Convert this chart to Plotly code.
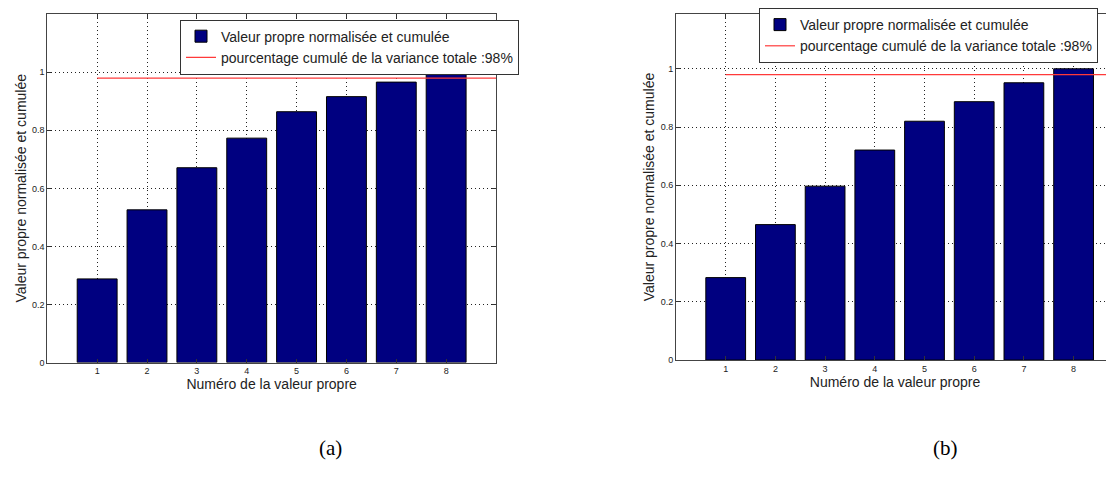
import plotly.graph_objects as go

num_vp = [1, 2, 3, 4, 5, 6, 7, 8]
cumul_a = [0.288, 0.526, 0.671, 0.773, 0.864, 0.916, 0.966, 1.0]
cumul_b = [0.283, 0.465, 0.597, 0.721, 0.820, 0.887, 0.952, 1.0]

seuil = 0.98
seuil_x = [1, 9]

y_ticks = [0, 0.2, 0.4, 0.6, 0.8, 1]
y_labels = ['0', '0.2', '0.4', '0.6', '0.8', '1']

nom_barre = 'Valeur propre normalisée et cumulée'
nom_seuil = 'pourcentage cumulé de la variance totale :98%'
titre_x = 'Numéro de la valeur propre'
titre_y = 'Valeur propre normalisée et cumulée'

# la page html garde une marge de 8 px autour du graphique
OFF = 8
W, H = 1114 - OFF, 479 - OFF
FONT = 'Liberation Sans, Arial, sans-serif'


def px(x):
    return (x - OFF) / W


def py(y):
    return 1 - (y - OFF) / H


fig = go.Figure()

for cumul, xa, ya, leg in [(cumul_a, 'x', 'y', 'legend'), (cumul_b, 'x2', 'y2', 'legend2')]:
    fig.add_trace(go.Bar(
        x=num_vp, y=cumul, width=0.8, name=nom_barre,
        marker=dict(color='#000080', line=dict(color='black', width=1)),
        xaxis=xa, yaxis=ya, legend=leg))
    fig.add_trace(go.Scatter(
        x=seuil_x, y=[seuil] * len(seuil_x), mode='lines', name=nom_seuil,
        line=dict(color='#ff3a3a', width=1.2),
        xaxis=xa, yaxis=ya, legend=leg))


def x_axis(domain, rng, anchor):
    return dict(domain=domain, range=rng, anchor=anchor, tickvals=num_vp,
                ticks='inside', ticklen=4, tickcolor='#333',
                showgrid=True, gridcolor='#222', griddash='1px,3px', gridwidth=1,
                showline=True, linecolor='#444', linewidth=1, mirror='ticks',
                zeroline=False, tickfont=dict(size=9, color='#222'),
                title=dict(text=titre_x, font=dict(size=14, color='#222'), standoff=1),
                automargin=False)


def y_axis(domain, rng, anchor):
    return dict(domain=domain, range=rng, anchor=anchor,
                tickvals=y_ticks, ticktext=y_labels,
                ticks='inside', ticklen=4, tickcolor='#333',
                showgrid=True, gridcolor='#222', griddash='1px,3px', gridwidth=1,
                showline=True, linecolor='#444', linewidth=1, mirror='ticks',
                zeroline=False, tickfont=dict(size=9, color='#222'),
                title=dict(text=titre_y, font=dict(size=14, color='#222'), standoff=2),
                automargin=False)


leg_style = dict(xref='paper', yref='paper', xanchor='left', yanchor='middle',
                 bgcolor='white', bordercolor='#333', borderwidth=1,
                 font=dict(size=14, color='#222', family=FONT),
                 itemwidth=30, tracegroupgap=0)

fig.update_layout(
    width=W, height=H, template='none',
    paper_bgcolor='white', plot_bgcolor='white',
    margin=dict(l=0, r=0, t=0, b=0),
    font=dict(family=FONT, color='#222'),
    showlegend=True,
    xaxis=x_axis([px(47.3), px(496)], [0, 9], 'y'),
    yaxis=y_axis([py(361), 1.0], [0, (361 - OFF) / 294], 'x'),
    xaxis2=x_axis([px(676), 1.0], [0, (1114 - 676) / 49.7], 'y2'),
    yaxis2=y_axis([py(358.5), 1.0], [0, (358.5 - OFF) / 295], 'x2'),
    legend=dict(x=px(180), y=py(41.5), **leg_style),
    legend2=dict(x=px(759), y=py(29.5), **leg_style),
    annotations=[
        dict(text='(a)', x=px(317), y=py(462), xref='paper', yref='paper',
             showarrow=False, font=dict(family='Liberation Serif, Times New Roman, serif', size=21, color='black')),
        dict(text='(b)', x=px(960), y=py(462), xref='paper', yref='paper',
             showarrow=False, font=dict(family='Liberation Serif, Times New Roman, serif', size=21, color='black')),
    ],
)

fig.write_html('out.html')
